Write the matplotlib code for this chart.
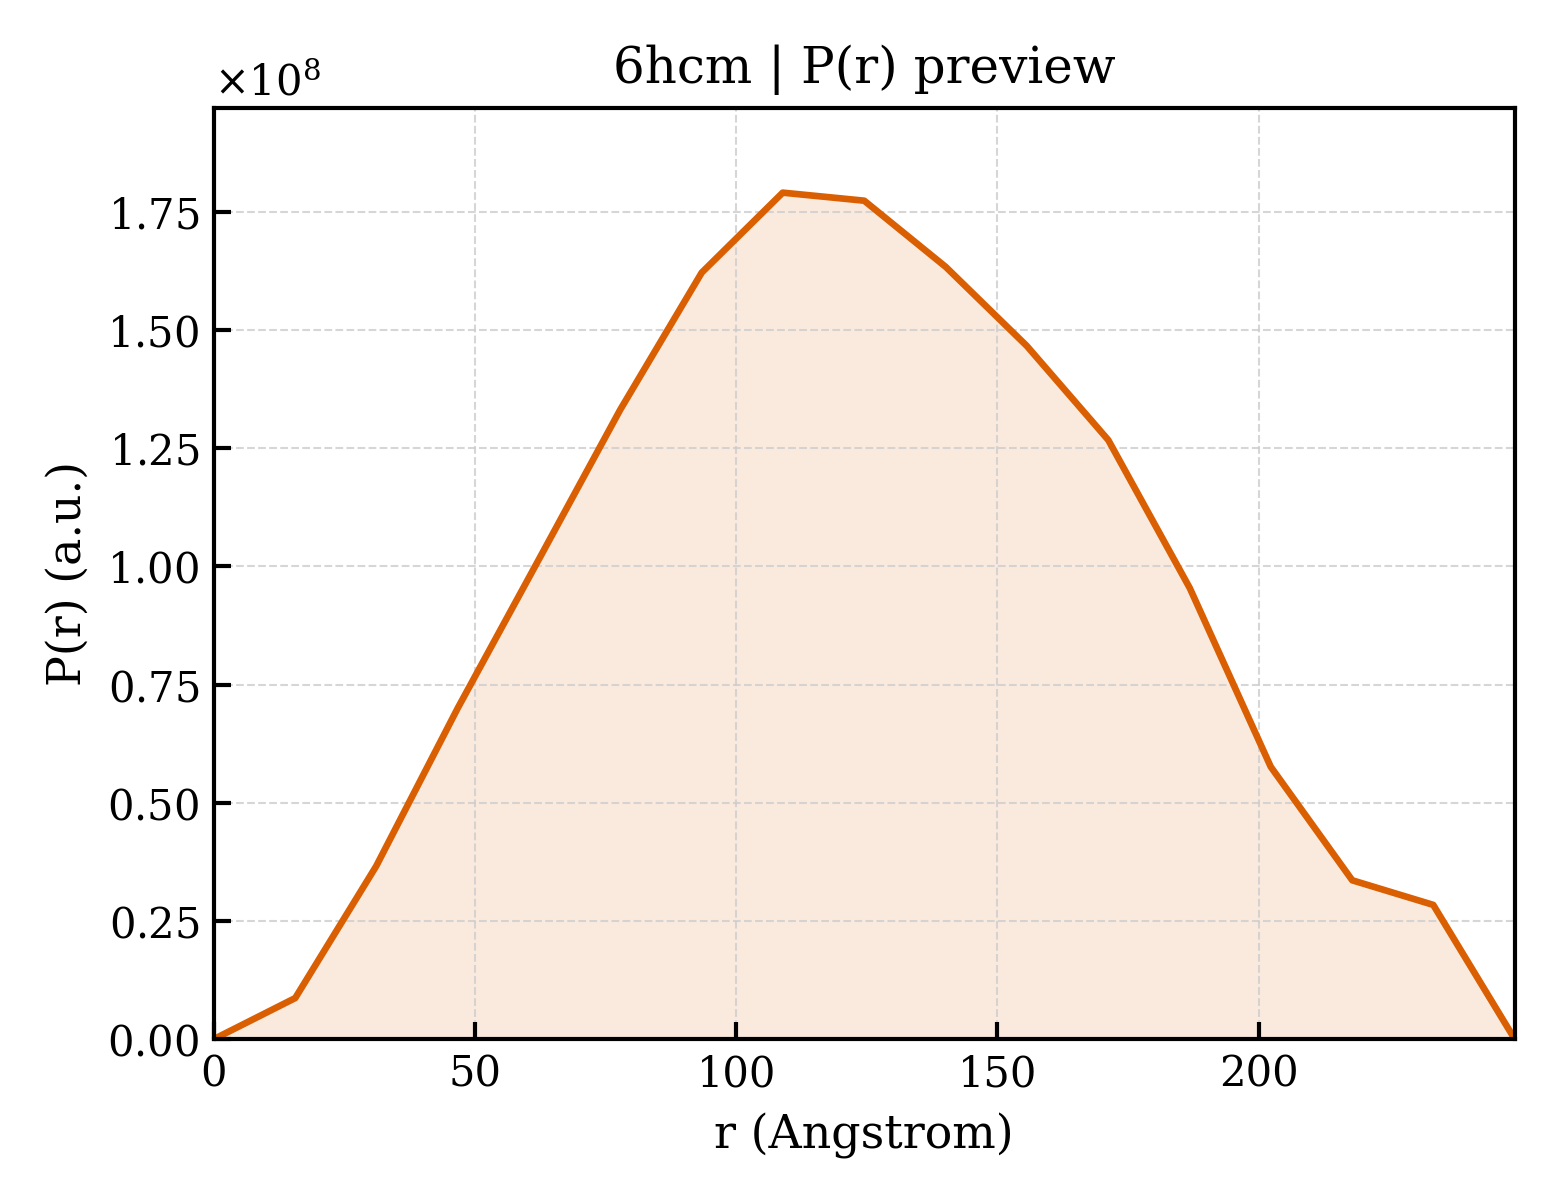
import matplotlib
matplotlib.use("Agg")
import matplotlib.pyplot as plt

# Data read from the preview
r = [0.0, 15.6, 31.1, 46.7, 62.3, 77.8, 93.4, 108.9, 124.5, 140.1,
     155.6, 171.2, 186.8, 202.3, 217.9, 233.4, 249.0]
pr = [0.0, 0.087, 0.366, 0.700, 1.016, 1.331, 1.621, 1.790, 1.773, 1.633,
      1.466, 1.267, 0.954, 0.576, 0.336, 0.284, 0.0]
pr = [v * 1e8 for v in pr]

color = "#d95f02"

plt.rcParams["font.family"] = "DejaVu Serif"
plt.rcParams["mathtext.fontset"] = "dejavuserif"

fig, ax = plt.subplots(figsize=(5.2, 4), dpi=300)
ax.plot(r, pr, color=color, lw=1.6)
ax.fill_between(r, pr, 0, color=color, alpha=0.13, lw=0)

ax.set_xlim(0, max(r))
ax.set_ylim(0, max(pr) * 1.1)
ax.set_xlabel("r (Angstrom)", fontsize=11)
ax.set_ylabel("P(r) (a.u.)", fontsize=11)
ax.set_title("6hcm | P(r) preview", fontsize=12)

ax.yaxis.set_major_formatter(matplotlib.ticker.ScalarFormatter(useMathText=True))
ax.yaxis.get_major_formatter().set_powerlimits((0, 0))
ax.yaxis.set_major_locator(matplotlib.ticker.MultipleLocator(0.25e8))
ax.yaxis.get_offset_text().set_fontsize(10)

ax.tick_params(direction="in", labelsize=10, width=1, length=4)
ax.grid(True, ls="--", lw=0.5, color="#cccccc", alpha=0.8)
for s in ax.spines.values():
    s.set_linewidth(1.0)

fig.subplots_adjust(left=0.137, right=0.971, top=0.91, bottom=0.134)
fig.savefig("out.png", dpi=300)
